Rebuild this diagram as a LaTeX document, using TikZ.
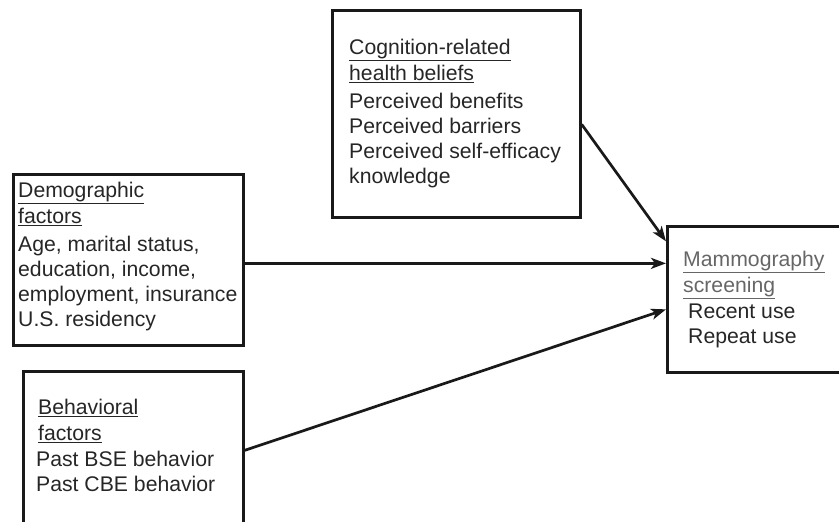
\documentclass[tikz,border=0pt]{standalone}
\usepackage{fontspec}
\setmainfont{Liberation Sans}
\usetikzlibrary{arrows.meta,positioning}
\tikzset{
  box/.style={draw=black!90,line width=2.7pt,anchor=north west,inner sep=0pt},
  txt/.style={anchor=north west,align=left,inner sep=0pt,text=black!85,
    font=\fontsize{21.2pt}{25pt}\selectfont},
  arr/.style={line width=2.7pt,draw=black!90,-{Stealth[length=15pt,width=11pt,inset=4pt]}}
}
\begin{document}
\begin{tikzpicture}[line join=miter,x=1pt,y=-1pt]
\useasboundingbox (0,0) rectangle (839,522);
\clip (0,0) rectangle (839,522);
\node[box,minimum width=230pt,minimum height=171pt] (demo) at (12,173) {};
\node[box,minimum width=220pt,minimum height=160pt] (behav) at (22,370) {};
\node[box,minimum width=248pt,minimum height=207pt] (cog) at (331,9) {};
\node[box,minimum width=190pt,minimum height=146pt] (mam) at (666,225) {};
\node[txt] (demotxt) at (18,182) {\underline{Demographic}\\[1pt]\underline{factors}\\[3pt]Age, marital status,\\education, income,\\employment, insurance\\U.S. residency};
\node[txt] (behavtxt) at (36,399) {\hspace{2pt}\underline{Behavioral}\\[1pt]\hspace{2pt}\underline{factors}\\[1pt]Past BSE behavior\\Past CBE behavior};
\node[txt] (cogtxt) at (349,39) {\underline{Cognition-related}\\[1pt]\underline{health beliefs}\\[3pt]Perceived benefits\\Perceived barriers\\Perceived self-efficacy\\knowledge};
\node[txt] (mamtxt) at (683,251) {\textcolor{black!60}{\underline{Mammography}}\\[1pt]\textcolor{black!60}{\underline{screening}}\\[1pt]\hspace{5pt}Recent use\\\hspace{5pt}Repeat use};
\draw[arr] ([yshift=-10.5pt]cog.east) -- ([yshift=58pt]mam.west);
\draw[arr] ([yshift=-3.5pt]demo.east) -- ([yshift=36pt]mam.west);
\draw[arr] ([yshift=1pt]behav.east) -- ([yshift=-10pt]mam.west);
\end{tikzpicture}
\end{document}
